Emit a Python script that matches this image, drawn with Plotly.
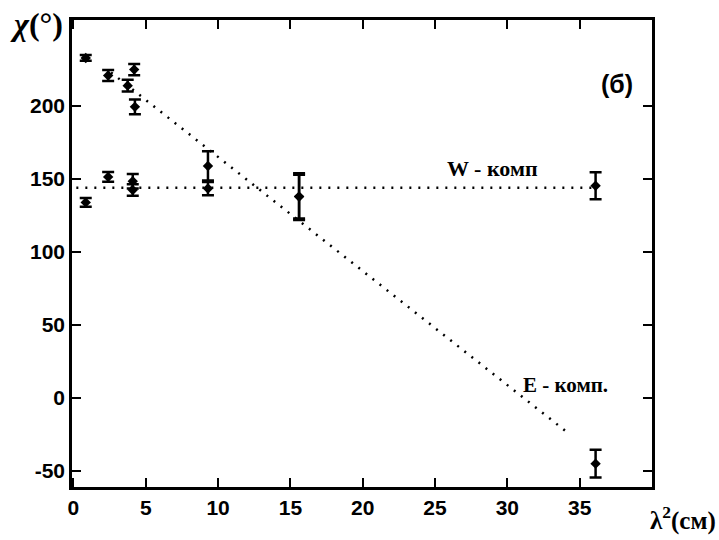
import plotly.graph_objects as go

# E-component data (lambda^2 in cm^2, chi in degrees)
e_x = [0.85, 2.4, 4.2, 3.75, 4.25, 9.3, 15.6, 36.1]
e_y = [233, 221, 225, 214, 199.5, 159, 138, -45]
e_err = [2, 3.8, 3.8, 4, 5, 10, 16, 9.5]

# W-component data
w_x = [0.85, 2.4, 4.1, 4.1, 9.3, 15.6, 36.1]
w_y = [134, 151.5, 148.5, 142.5, 143.5, 138, 145.4]
w_err = [3, 3.4, 5, 4, 4.5, 15, 9.3]

# fitted lines
e_line_x = [2.6, 34.2]
e_line_y = [223.0, -24.0]
w_line_x = [0.2, 36.0]
w_line_y = [144.0, 144.0]

x_ticks = [0, 5, 10, 15, 20, 25, 30, 35]
y_ticks = [-50, 0, 50, 100, 150, 200]

fig = go.Figure()

fig.add_trace(go.Scatter(x=e_line_x, y=e_line_y, mode="lines",
                         line=dict(color="black", width=2.5, dash="2px,7px"),
                         showlegend=False, hoverinfo="skip"))
fig.add_trace(go.Scatter(x=w_line_x, y=w_line_y, mode="lines",
                         line=dict(color="black", width=2.5, dash="2px,7px"),
                         showlegend=False, hoverinfo="skip"))

for xs, ys, es in [(e_x, e_y, e_err), (w_x, w_y, w_err)]:
    fig.add_trace(go.Scatter(
        x=xs, y=ys, mode="markers",
        marker=dict(symbol="diamond", size=8, color="black"),
        error_y=dict(type="data", array=es, visible=True, color="black",
                     thickness=2.5, width=6),
        showlegend=False))

tick_font = dict(family="Liberation Sans Narrow, Liberation Sans, Arial", size=21,
                 color="black", weight="bold")
serif = "Liberation Serif, Times New Roman, serif"

fig.update_layout(
    width=719, height=540,
    margin=dict(l=72, r=67, t=20, b=53),
    paper_bgcolor="white", plot_bgcolor="white",
    xaxis=dict(range=[-0.1, 40], tickvals=x_ticks, ticktext=[str(v) for v in x_ticks],
               ticks="inside", ticklen=9, tickwidth=2, tickcolor="black",
               showline=True, linewidth=2.5, linecolor="black", mirror="ticks",
               showgrid=False, zeroline=False, tickfont=tick_font),
    yaxis=dict(range=[-61, 259], tickvals=y_ticks, ticktext=[str(v) for v in y_ticks],
               ticks="inside", ticklen=9, tickwidth=2, tickcolor="black",
               showline=True, linewidth=2.5, linecolor="black", mirror="ticks",
               showgrid=False, zeroline=False, tickfont=tick_font),
)

fig.add_annotation(x=29, y=157, xref="x", yref="y", text="<b>W - комп</b>", showarrow=False,
                   font=dict(family=serif, size=22, color="black"))
fig.add_annotation(x=34, y=9, xref="x", yref="y", text="<b>E - комп.</b>", showarrow=False,
                   font=dict(family=serif, size=21, color="black"))
fig.add_annotation(x=37.6, y=215, xref="x", yref="y", text="<b>(б)</b>", showarrow=False,
                   font=dict(family="Liberation Sans, Arial", size=25, color="black"))
fig.add_annotation(x=0, y=1, xref="paper", yref="paper", xanchor="left", yanchor="bottom",
                   xshift=-64, yshift=-24, text="<b><i>χ</i>(°)</b>", showarrow=False,
                   font=dict(family=serif, size=32, color="black"))
fig.add_annotation(x=1, y=0, xref="paper", yref="paper", xanchor="left", yanchor="top",
                   xshift=-4, yshift=-13, text="<b>λ<sup>2</sup>(см)</b>", showarrow=False,
                   font=dict(family=serif, size=25, color="black"))

fig.write_html("out.html")
